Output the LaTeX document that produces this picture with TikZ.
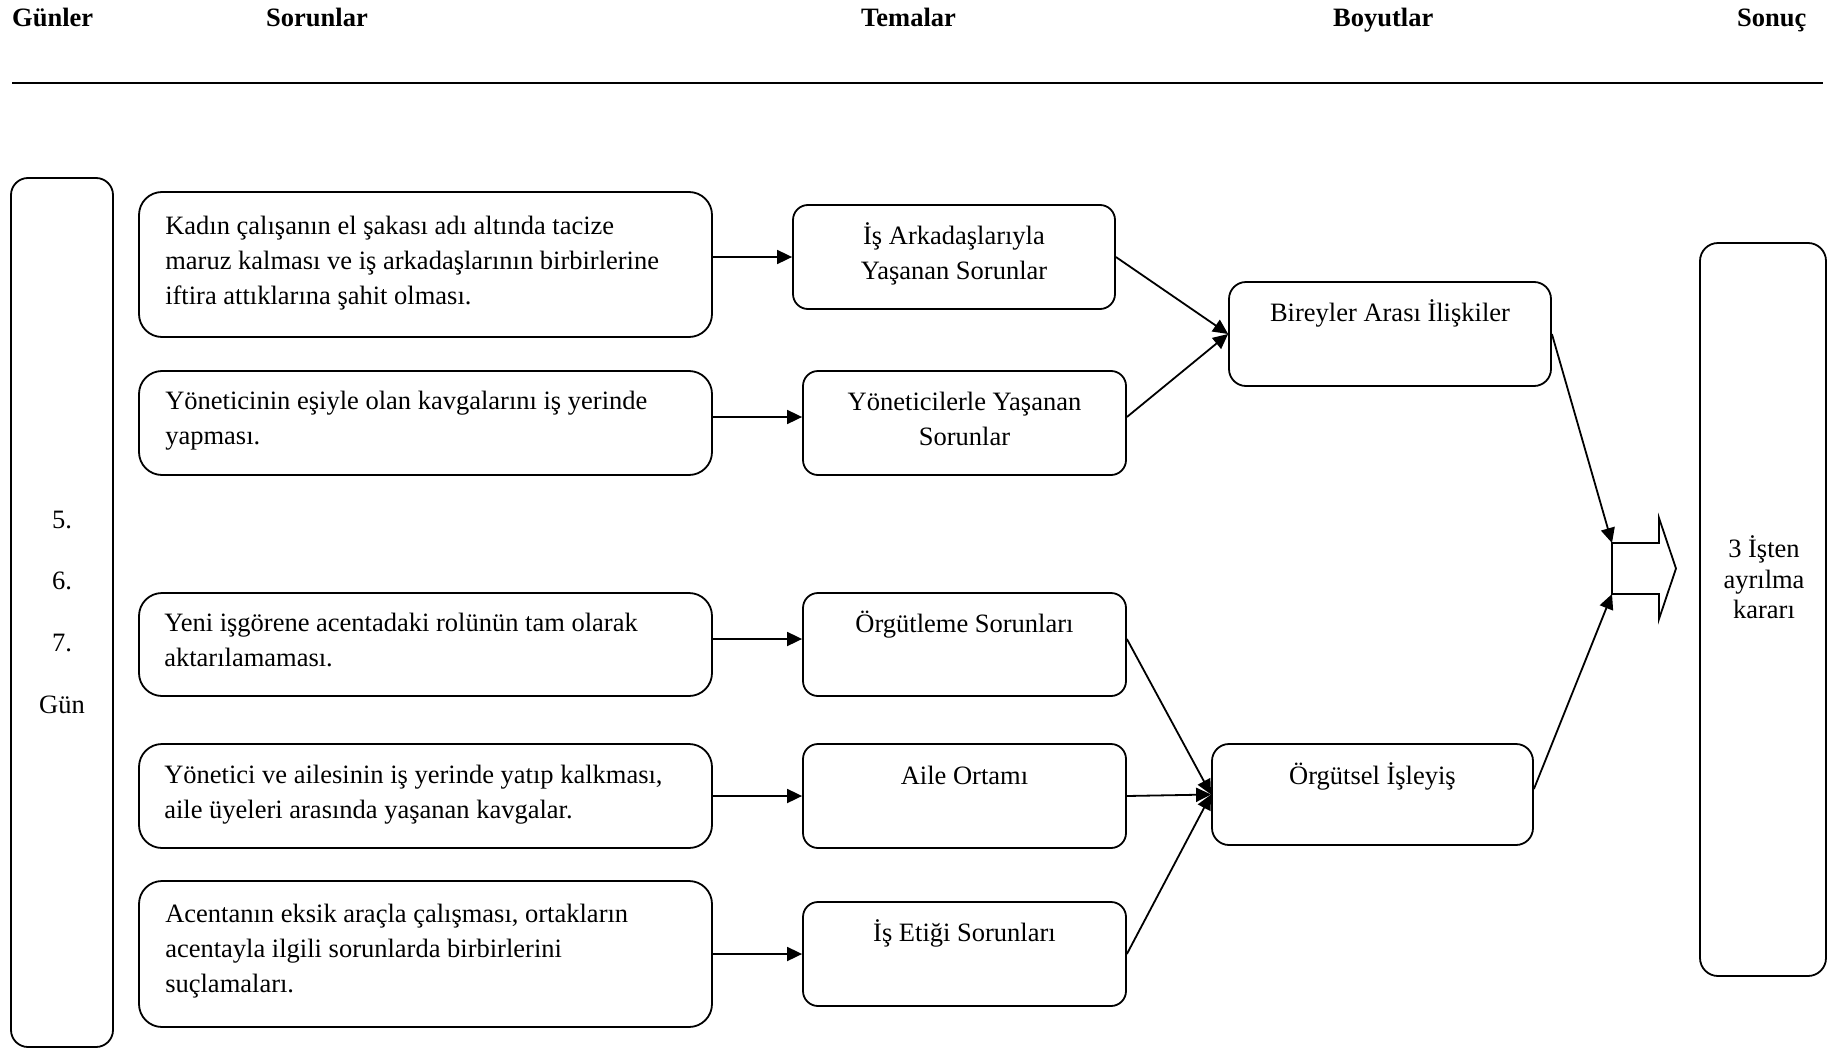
\documentclass[tikz,border=0pt]{standalone}
\usepackage{fontspec}
\setmainfont{Liberation Serif}
\usetikzlibrary{arrows.meta,calc}

% strut that fixes the height of the first line of a text node
\newcommand\fstrut{\rule{0pt}{24pt}}

\begin{document}
\begin{tikzpicture}[x=1pt,y=-1pt,
  every node/.style={font=\fontsize{26.5}{35}\selectfont, inner sep=0pt},
  panel/.style={draw, line width=1.8pt, rounded corners=#1},
  panel/.default=15pt,
  lefttext/.style={align=left, anchor=north west},
  midtext/.style={align=center, anchor=north},
  head/.style={font=\bfseries\fontsize{26.5}{35}\selectfont, anchor=base west},
  conn/.style={line width=1.8pt, -{Triangle[length=15pt,width=14pt]}}
]
\useasboundingbox (0,0) rectangle (1829,1049);

% column headings and rule
\node[head] (hgun) at (12,27) {Günler};
\node[head] (hsor) at (266,27) {Sorunlar};
\node[head] (htem) at (861,27) {Temalar};
\node[head] (hboy) at (1333,27) {Boyutlar};
\node[head] (hson) at (1737,27) {Sonuç};
\draw[line width=1.4pt] (12,83) -- (1823,83);

% days column
\node[panel=17pt, minimum width=102pt, minimum height=869pt] (days) at (62,612.5) {};
\node[align=center, anchor=north, font=\fontsize{26.5}{61.7}\selectfont] (dayst) at (62,504)
  {\fstrut 5.\\6.\\7.\\Gün};

% problems
\node[panel=23pt, minimum width=573pt, minimum height=145pt] (s1) at (425.5,264.5) {};
\node[panel=23pt, minimum width=573pt, minimum height=104pt] (s2) at (425.5,423) {};
\node[panel=23pt, minimum width=573pt, minimum height=103pt] (s3) at (425.5,644.5) {};
\node[panel=23pt, minimum width=573pt, minimum height=104pt] (s4) at (425.5,796) {};
\node[panel=23pt, minimum width=573pt, minimum height=146pt] (s5) at (425.5,954) {};

\node[lefttext] (s1t) at ($(s1.north west)+(27,19)$)
  {\fstrut Kadın çalışanın el şakası adı altında tacize\\maruz kalması ve iş arkadaşlarının birbirlerine\\iftira attıklarına şahit olması.};
\node[lefttext] (s2t) at ($(s2.north west)+(27,15.5)$)
  {\fstrut Yöneticinin eşiyle olan kavgalarını iş yerinde\\yapması.};
\node[lefttext] (s3t) at ($(s3.north west)+(26,15.5)$)
  {\fstrut Yeni işgörene acentadaki rolünün tam olarak\\aktarılamaması.};
\node[lefttext] (s4t) at ($(s4.north west)+(26,16.5)$)
  {\fstrut Yönetici ve ailesinin iş yerinde yatıp kalkması,\\aile üyeleri arasında yaşanan kavgalar.};
\node[lefttext] (s5t) at ($(s5.north west)+(27,18)$)
  {\fstrut Acentanın eksik araçla çalışması, ortakların\\acentayla ilgili sorunlarda birbirlerini\\suçlamaları.};

% themes
\node[panel, minimum width=322pt, minimum height=104pt] (t1) at (954,257) {};
\node[panel, minimum width=323pt, minimum height=104pt] (t2) at (964.5,423) {};
\node[panel, minimum width=323pt, minimum height=103pt] (t3) at (964.5,644.5) {};
\node[panel, minimum width=323pt, minimum height=104pt] (t4) at (964.5,796) {};
\node[panel, minimum width=323pt, minimum height=104pt] (t5) at (964.5,954) {};

\node[midtext] (t1t) at ($(t1.north)+(0,16)$) {\fstrut İş Arkadaşlarıyla\\Yaşanan Sorunlar};
\node[midtext] (t2t) at ($(t2.north)+(0,16)$) {\fstrut Yöneticilerle Yaşanan\\Sorunlar};
\node[midtext] (t3t) at ($(t3.north)+(0,16)$) {\fstrut Örgütleme Sorunları};
\node[midtext] (t4t) at ($(t4.north)+(0,17)$) {\fstrut Aile Ortamı};
\node[midtext] (t5t) at ($(t5.north)+(0,16)$) {\fstrut İş Etiği Sorunları};

% dimensions
\node[panel=17pt, minimum width=322pt, minimum height=104pt] (b1) at (1390,334) {};
\node[panel=17pt, minimum width=321pt, minimum height=101pt] (b2) at (1372.5,794.5) {};
\node[midtext] (b1t) at ($(b1.north)+(0,16)$) {\fstrut Bireyler Arası İlişkiler};
\node[midtext] (b2t) at ($(b2.north)+(0,17)$) {\fstrut Örgütsel İşleyiş};

% outcome
\node[panel=18pt, minimum width=126pt, minimum height=733pt] (res) at (1763,609.5) {};
\node[align=center, anchor=north, font=\fontsize{26.5}{30.8}\selectfont] (rest) at (1764,533)
  {\fstrut 3 İşten\\ayrılma\\kararı};

% block arrow towards the outcome
\coordinate (ain1) at (1612,543);
\coordinate (ain2) at (1612,594);
\draw[line width=1.8pt, line join=miter]
  (ain1) -- (1659,543) -- (1659,518) -- (1676,568.5) -- (1659,619) -- (1659,594) -- (ain2) -- cycle;

% problems to themes
\draw[conn] (s1.east |- t1.west) -- (t1.west);
\draw[conn] (s2.east |- 0,417) -- (t2.west |- 0,417);
\draw[conn] (s3.east |- 0,639) -- (t3.west |- 0,639);
\draw[conn] (s4.east |- t4.west) -- (t4.west);
\draw[conn] (s5.east |- t5.west) -- (t5.west);

% themes to dimensions
\draw[conn] (t1.east) -- (b1.west);
\draw[conn] (t2.east |- 0,417) -- (b1.west);
\draw[conn] (t3.east |- 0,639) -- (b2.west);
\draw[conn] (t4.east) -- (b2.west);
\draw[conn] (t5.east) -- (b2.west);

% dimensions to the block arrow
\draw[conn] (b1.east) -- (ain1);
\draw[conn] (b2.east |- 0,789) -- (ain2);
\end{tikzpicture}
\end{document}
